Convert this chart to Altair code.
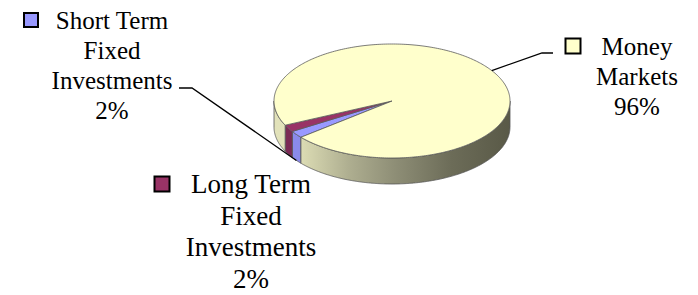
import math
import altair as alt
import pandas as pd

# ---------------- data ----------------
categories = ["Short Term Fixed Investments", "Long Term Fixed Investments", "Money Markets"]
shares = [2, 2, 96]
top_colors = ["#9999FF", "#993366", "#FFFFCC"]
side_colors = ["#8A8AEA", "#7C2A55", "#E2E2BA"]
label_lines = [["Short Term", "Fixed", "Investments"],
               ["Long Term", "Fixed", "Investments"],
               ["Money", "Markets"]]

# ---------------- layout (pixels) ----------------
CX, CY, RX, RY, DEPTH = 392, 101, 118, 57, 26
START = 140.5
label_x = [112, 251, 637]
label_y0 = [28.5, 193, 55]
label_fs = [25, 27, 25]
label_lh = [30, 31.6, 30]
square_xy = [(31, 20), (162, 184), (573, 46)]
square_side = [14, 15, 15]
leader_elbows = [[(179, 88), (192, 88)], None, [(553, 53), (542, 53)]]
leader_on_bottom = [True, False, False]
FONT = "Liberation Serif"


def pt(t, dz=0.0):
    r = math.radians(t)
    return CX + RX * math.cos(r), CY + RY * math.sin(r) + dz


def samples(t0, t1, step=1.0):
    n = max(2, int(math.ceil((t1 - t0) / step)) + 1)
    return [t0 + (t1 - t0) * k / (n - 1) for k in range(n)]


total = sum(shares)
spans = []
a = START
for s in shares:
    sp = 360.0 * s / total
    spans.append((a, a + sp))
    a += sp

# top face polygons
top_rows = []
for ci, (t0, t1) in enumerate(spans):
    pts = [(CX, CY)] + [pt(t) for t in samples(t0, t1)] + [(CX, CY)]
    for i, (x, y) in enumerate(pts):
        top_rows.append({"poly": categories[ci], "i": i, "x": x, "y": y, "fill": top_colors[ci]})
top_df = pd.DataFrame(top_rows)

# side strips (front half only)
def front_parts(t0, t1):
    parts = []
    for k in (-1, 0, 1, 2):
        lo, hi = 360 * k, 360 * k + 180
        s, e = max(t0, lo), min(t1, hi)
        if e > s:
            parts.append((s, e))
    return parts

side_rows, grad_rows = [], []
for ci, (t0, t1) in enumerate(spans):
    for pi, (s, e) in enumerate(front_parts(t0, t1)):
        for t in samples(s, e, 0.5):
            x, y = pt(t)
            row = {"part": f"{ci}-{pi}", "x": x, "y": y, "y2": y + DEPTH, "fill": side_colors[ci]}
            if e - s > 90:
                grad_rows.append(row)
            else:
                side_rows.append(row)
side_df = pd.DataFrame(side_rows)
grad_df = pd.DataFrame(grad_rows)

# leader lines
lead_rows = []
for ci, elb in enumerate(leader_elbows):
    if elb is None:
        continue
    t0, t1 = spans[ci]
    mx, my = pt((t0 + t1) / 2, DEPTH if leader_on_bottom[ci] else 0)
    for i, (x, y) in enumerate(elb + [(mx, my)]):
        lead_rows.append({"lead": categories[ci], "i": i, "x": x, "y": y})
lead_df = pd.DataFrame(lead_rows)

sq_rows = []
for ci in range(len(categories)):
    sq_rows.append({"x": square_xy[ci][0], "y": square_xy[ci][1],
                    "fill": top_colors[ci], "sz": square_side[ci] ** 2})
sq_df = pd.DataFrame(sq_rows)

W, H = 682, 279
xs = alt.Scale(domain=[8, 8 + W], nice=False, zero=False)
ys = alt.Scale(domain=[8, 8 + H], nice=False, zero=False, reverse=True)
X = alt.X("x:Q", scale=xs, axis=None)
Y = alt.Y("y:Q", scale=ys, axis=None)

sides = alt.Chart(side_df).mark_area(stroke="#555555", strokeWidth=0.8, opacity=1).encode(
    x=X, y=Y, y2="y2:Q", detail="part:N", fill=alt.Fill("fill:N", scale=None))

grad = alt.Chart(grad_df).mark_area(
    stroke="#555555", strokeWidth=0.8, opacity=1,
    fill=alt.Gradient(gradient="linear", x1=0, x2=1, y1=0, y2=0, stops=[
        alt.GradientStop(offset=0, color="#DCDCB4"),
        alt.GradientStop(offset=0.23, color="#AEAE90"),
        alt.GradientStop(offset=0.45, color="#8E8E76"),
        alt.GradientStop(offset=0.72, color="#6C6C58"),
        alt.GradientStop(offset=1, color="#595947"),
    ])).encode(x=X, y=Y, y2="y2:Q", detail="part:N")

top = alt.Chart(top_df).mark_line(stroke="#5A5A5A", strokeWidth=0.8).encode(
    x=X, y=Y, order="i:Q", detail="poly:N", fill=alt.Fill("fill:N", scale=None))

leaders = alt.Chart(lead_df).mark_line(color="black", strokeWidth=1.3).encode(
    x=X, y=Y, order="i:Q", detail="lead:N")

squares = alt.Chart(sq_df).mark_square(filled=True, stroke="black", strokeWidth=2, opacity=1).encode(
    x=X, y=Y, fill=alt.Fill("fill:N", scale=None), size=alt.Size("sz:Q", scale=None))

text_layers = []
for ci in range(len(categories)):
    lines = label_lines[ci] + [f"{shares[ci]}%"]
    tdf = pd.DataFrame({
        "x": [label_x[ci]] * len(lines),
        "y": [label_y0[ci] + li * label_lh[ci] for li in range(len(lines))],
        "lbl": lines,
    })
    text_layers.append(
        alt.Chart(tdf).mark_text(font=FONT, fontSize=label_fs[ci], align="center",
                                 baseline="alphabetic", fill="black").encode(
            x=X, y=Y, text="lbl:N"))

chart = alt.layer(sides, grad, top, leaders, squares, *text_layers).properties(
    width=W, height=H, padding=0, background="white"
).configure(font=FONT).configure_text(font=FONT).configure_view(stroke=None)

chart.save("out.html", embed_options={"renderer": "svg", "actions": False})
